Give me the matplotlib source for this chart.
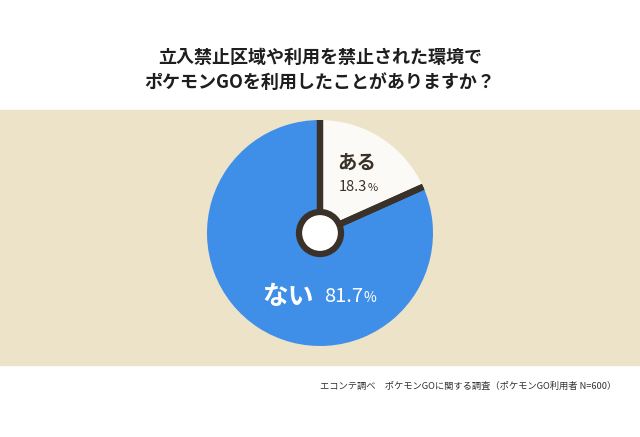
import numpy as np
import matplotlib.pyplot as plt

plt.rcParams['font.family'] = ['Noto Sans CJK JP', 'DejaVu Sans']

labels = ['ある', 'ない']
values = [18.3, 81.7]
colors = ['#fbfaf6', '#3f8fe8']
title = '立入禁止区域や利用を禁止された環境で\nポケモンGOを利用したことがありますか？'
source = 'エコンテ調べ　ポケモンGOに関する調査（ポケモンGO利用者 N=600）'

W, H = 640, 437
BEIGE = '#ece3c8'
DARK = '#3a3129'

fig = plt.figure(figsize=(W / 100, H / 100), dpi=100)
ax = fig.add_axes([0, 0, 1, 1])

cx, cy, r = 320, H - 233, 113
wedges, _ = ax.pie(values, colors=colors, startangle=90, counterclock=False,
                   center=(cx, cy), radius=r,
                   wedgeprops=dict(linewidth=0))
ax.set_xlim(0, W)
ax.set_ylim(0, H)
ax.set_aspect('equal')
ax.axis('off')

# beige band behind the pie
ax.axhspan(H - 365, H - 110, color=BEIGE, zorder=0)

# separators at slice borders
for w in wedges:
    for ang in (w.theta1, w.theta2):
        a = np.deg2rad(ang)
        ax.plot([cx, cx + r * np.cos(a)], [cy, cy + r * np.sin(a)],
                color=DARK, lw=4.5, solid_capstyle='butt', zorder=3)

# hub
ax.add_patch(plt.Circle((cx, cy), 21, facecolor='white', edgecolor=DARK,
                        lw=4.5, zorder=4))

# slice labels
ax.text(357, H - 163, labels[0], fontsize=14, fontweight='bold', color=DARK,
        ha='center', va='center', zorder=5)
ax.text(367, H - 187, f'{values[0]}', fontsize=10.5, color=DARK,
        ha='right', va='center', zorder=5)
ax.text(368, H - 188, '%', fontsize=8, color=DARK,
        ha='left', va='center', zorder=5)

ax.text(288, H - 297, labels[1], fontsize=18.5, fontweight='bold', color='white',
        ha='center', va='center', zorder=5)
ax.text(363, H - 297, f'{values[1]}', fontsize=14.5, color='white',
        ha='right', va='center', zorder=5)
ax.text(364, H - 298, '%', fontsize=10, color='white',
        ha='left', va='center', zorder=5)

ax.text(W / 2, H - 70, title, fontsize=13, fontweight='bold', color='#1e1e1e',
        ha='center', va='center', linespacing=1.45)

ax.text(616, H - 386, source, fontsize=6.7, color='#333333',
        ha='right', va='center')

fig.savefig('out.png', dpi=100, facecolor='white')
